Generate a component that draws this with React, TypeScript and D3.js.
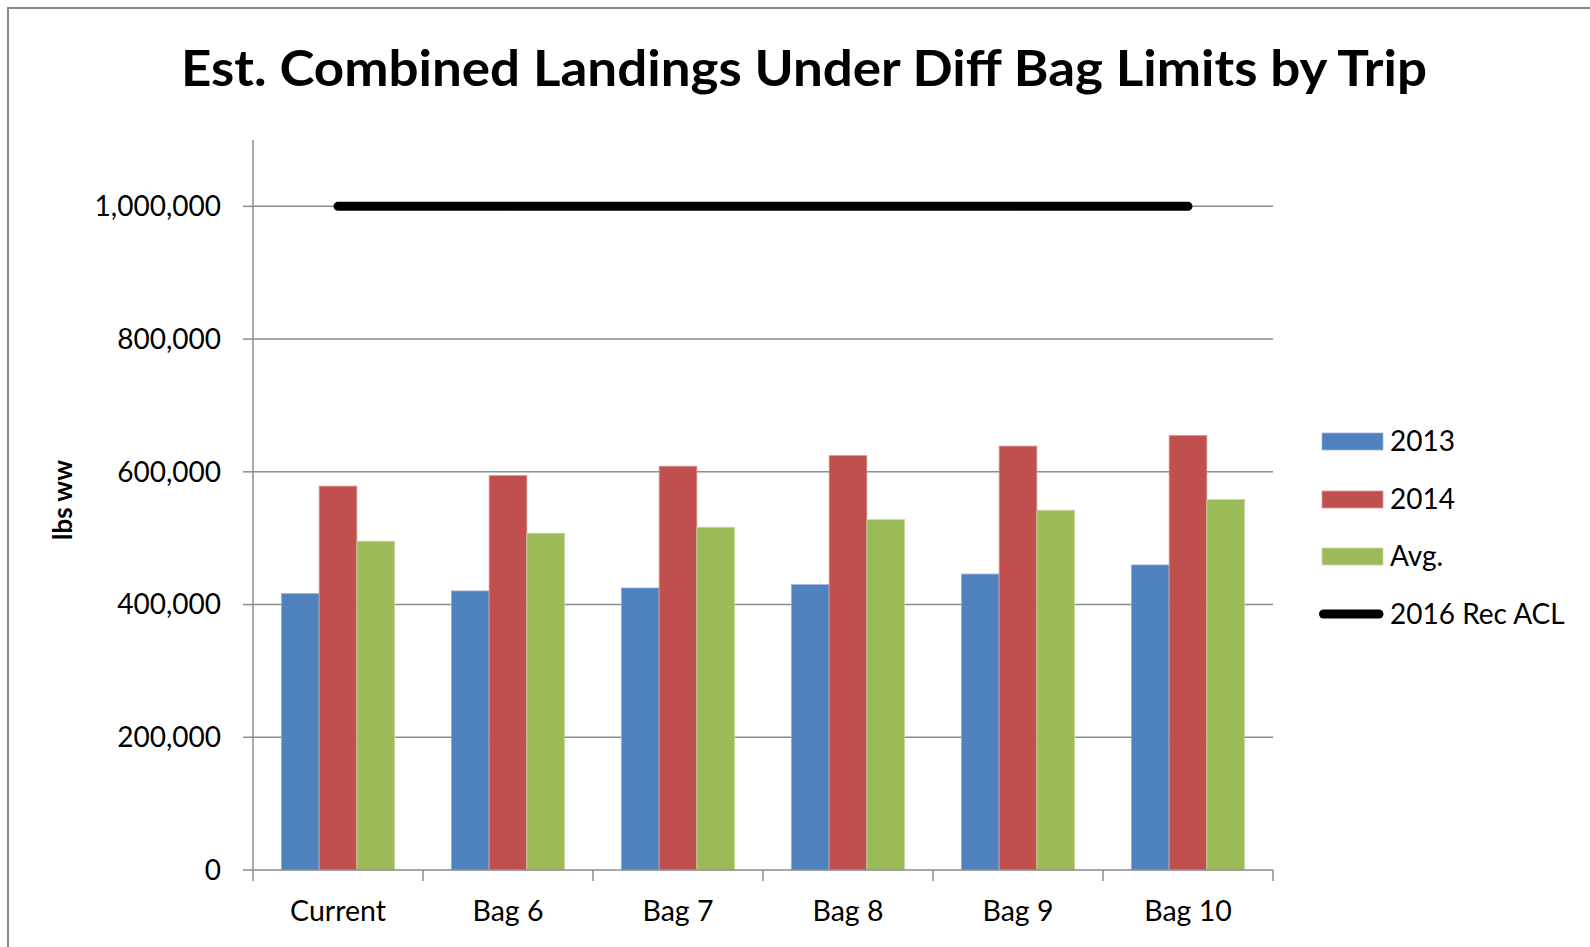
import React from "react";
import * as d3 from "d3";

const categories = ["Current", "Bag 6", "Bag 7", "Bag 8", "Bag 9", "Bag 10"];
const seriesNames = ["2013", "2014", "Avg."];
const values2013 = [416500, 420500, 425000, 430000, 446000, 459700];
const values2014 = [578500, 594500, 608500, 624700, 638800, 655000];
const valuesAvg = [495500, 507500, 516500, 528000, 542200, 558300];
const aclName = "2016 Rec ACL";
const aclValue = 1000000;
const yTicks = [0, 200000, 400000, 600000, 800000, 1000000];
const colors = ["#4F81BD", "#C0504D", "#9BBB59"];
const strokeColors = ["#9bb5da", "#dd9e9c", "#c6d9a5"];

const W = 1590;
const H = 947;
const plot = { left: 253, right: 1273, top: 140, bottom: 870 };
const FONT = "Lato, 'Open Sans', sans-serif";

export default function App() {
  const series = [values2013, values2014, valuesAvg];
  const x = d3.scaleBand<string>().domain(categories).range([plot.left, plot.right]).paddingInner(0).paddingOuter(0);
  const inner = d3
    .scaleBand<string>()
    .domain(seriesNames)
    .range([0, x.bandwidth()])
    .paddingInner(0)
    .paddingOuter(0.75);
  const y = d3.scaleLinear().domain([0, 1100000]).range([plot.bottom, plot.top]);
  const fmt = d3.format(",");
  const line = d3
    .line<string>()
    .x((c) => (x(c) as number) + x.bandwidth() / 2)
    .y(() => y(aclValue));

  const legendX = 1322;
  const legendYs = [441.5, 499.5, 556.5, 614];

  return (
    <svg
      width={W}
      height={H}
      style={{ position: "absolute", left: 0, top: 0, background: "#fff" }}
      fontFamily={FONT}
    >
      <rect x={8} y={8} width={W + 20} height={H + 20} fill="#fff" stroke="#8a8a8a" strokeWidth={2} />
      <text
        x={804}
        y={86}
        textAnchor="middle"
        fontSize={50}
        fontWeight="bold"
        textLength={1246}
        lengthAdjust="spacingAndGlyphs"
        fill="#000"
      >
        Est. Combined Landings Under Diff Bag Limits by Trip
      </text>

      {/* gridlines */}
      {yTicks.map((t) => (
        <g key={t}>
          {t > 0 && (
            <line x1={plot.left} x2={plot.right} y1={y(t)} y2={y(t)} stroke="#8c8c8c" strokeWidth={1.5} />
          )}
          <line x1={plot.left - 10} x2={plot.left} y1={y(t)} y2={y(t)} stroke="#8c8c8c" strokeWidth={1.5} />
          <text x={221} y={y(t)} dy="0.35em" textAnchor="end" fontSize={28} fill="#000">
            {fmt(t)}
          </text>
        </g>
      ))}

      {/* bars */}
      {series.map((vals, si) =>
        vals.map((v, ci) => (
          <rect
            key={`${si}-${ci}`}
            x={(x(categories[ci]) as number) + (inner(seriesNames[si]) as number)}
            y={y(v)}
            width={inner.bandwidth()}
            height={y(0) - y(v)}
            fill={colors[si]}
            stroke={strokeColors[si]}
            strokeWidth={0.8}
          />
        ))
      )}

      {/* axes */}
      <line x1={plot.left} x2={plot.left} y1={plot.top} y2={plot.bottom} stroke="#8c8c8c" strokeWidth={1.5} />
      <line x1={plot.left} x2={plot.right} y1={plot.bottom} y2={plot.bottom} stroke="#8c8c8c" strokeWidth={1.5} />
      {[...categories.map((c) => x(c) as number), plot.right].map((px, i) => (
        <line key={i} x1={px} x2={px} y1={plot.bottom} y2={plot.bottom + 11} stroke="#8c8c8c" strokeWidth={1.5} />
      ))}
      {categories.map((c) => (
        <text
          key={c}
          x={(x(c) as number) + x.bandwidth() / 2}
          y={921}
          textAnchor="middle"
          fontSize={28.5}
          fill="#000"
        >
          {c}
        </text>
      ))}

      {/* ACL line */}
      <path d={line(categories) || ""} stroke="#000" strokeWidth={9} strokeLinecap="round" fill="none" />

      {/* y label */}
      <text
        transform={`translate(72,500) rotate(-90)`}
        textAnchor="middle"
        fontSize={26}
        fontWeight="bold"
        fill="#000"
      >
        lbs ww
      </text>

      {/* legend */}
      {seriesNames.map((s, i) => (
        <g key={s}>
          <rect
            x={legendX}
            y={legendYs[i] - 8.5}
            width={61}
            height={17}
            fill={colors[i]}
            stroke={strokeColors[i]}
            strokeWidth={0.8}
          />
          <text x={1390} y={legendYs[i]} dy="0.35em" fontSize={28} fill="#000">
            {s}
          </text>
        </g>
      ))}
      <line
        x1={1323.5}
        x2={1379}
        y1={legendYs[3]}
        y2={legendYs[3]}
        stroke="#000"
        strokeWidth={9}
        strokeLinecap="round"
      />
      <text x={1390} y={legendYs[3]} dy="0.35em" fontSize={28} fill="#000">
        {aclName}
      </text>
    </svg>
  );
}
